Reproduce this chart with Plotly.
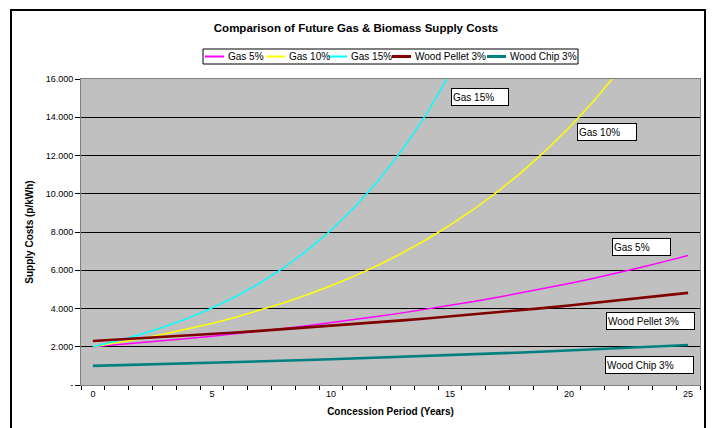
import plotly.graph_objects as go

# Concession years and supply cost projections (p/kWh)
years = list(range(26))

gas_5 = [2.000, 2.100, 2.205, 2.315, 2.431, 2.553, 2.680, 2.814, 2.955, 3.103,
         3.258, 3.421, 3.592, 3.771, 3.960, 4.158, 4.366, 4.584, 4.813, 5.054,
         5.307, 5.572, 5.851, 6.143, 6.450, 6.773]
gas_10 = [2.000, 2.200, 2.420, 2.662, 2.928, 3.221, 3.543, 3.897, 4.287, 4.716,
          5.187, 5.706, 6.277, 6.905, 7.595, 8.354, 9.190, 10.109, 11.120, 12.232,
          13.455, 14.800, 16.281, 17.909, 19.700, 21.670]
gas_15 = [2.000, 2.300, 2.645, 3.042, 3.498, 4.023, 4.626, 5.320, 6.118, 7.036,
          8.091, 9.305, 10.700, 12.305, 14.151, 16.274, 18.715, 21.523, 24.751, 28.464,
          32.733, 37.643, 43.290, 49.783, 57.250, 65.838]
wood_pellet_3 = [2.300, 2.369, 2.440, 2.513, 2.589, 2.666, 2.746, 2.829, 2.914, 3.001,
                 3.091, 3.184, 3.279, 3.378, 3.479, 3.583, 3.691, 3.801, 3.916, 4.033,
                 4.154, 4.279, 4.407, 4.539, 4.675, 4.816]
wood_chip_3 = [1.000, 1.030, 1.061, 1.093, 1.126, 1.159, 1.194, 1.230, 1.267, 1.305,
               1.344, 1.384, 1.426, 1.469, 1.513, 1.558, 1.605, 1.653, 1.702, 1.754,
               1.806, 1.860, 1.916, 1.974, 2.033, 2.094]

y_tick_vals = [0, 2, 4, 6, 8, 10, 12, 14, 16]
y_tick_text = ["-", "2.000", "4.000", "6.000", "8.000", "10.000", "12.000", "14.000", "16.000"]
x_tick_vals = [0, 5, 10, 15, 20, 25]

FONT = "Liberation Sans, Arial, sans-serif"

W, H = 712, 428
ML, MR, MT, MB = 81, 12, 79, 43
PW, PH = W - ML - MR, H - MT - MB


def px_x(px):
    """Pixel column -> paper x."""
    return (px - ML) / PW


def px_y(py):
    """Pixel row -> paper y."""
    return (H - MB - py) / PH


series = [
    ("Gas 5%", gas_5, "#FF00FF", 1.5),
    ("Gas 10%", gas_10, "#FFFF00", 1.5),
    ("Gas 15%", gas_15, "#00FFFF", 1.5),
    ("Wood Pellet 3%", wood_pellet_3, "#800000", 2.6),
    ("Wood Chip 3%", wood_chip_3, "#008080", 2.6),
]

fig = go.Figure()
for name, vals, color, w in series:
    fig.add_trace(go.Scatter(x=years, y=vals, name=name, mode="lines",
                             line=dict(color=color, width=w), showlegend=False))

# Series labels in boxes (left edge x, vertical centre y, box width px)
labels = [
    ("Gas 15%", 15.04, 15.06, 58),
    ("Gas 10%", 20.33, 13.23, 60),
    ("Gas 5%", 21.80, 7.22, 59),
    ("Wood Pellet 3%", 21.55, 3.35, 89),
    ("Wood Chip 3%", 21.51, 1.07, 89),
]
for text, lx, cy, w in labels:
    fig.add_annotation(x=lx, y=cy, xref="x", yref="y", text=text, showarrow=False,
                       xanchor="left", yanchor="middle", align="left",
                       width=w - 4, height=14, bgcolor="white",
                       bordercolor="black", borderwidth=1, borderpad=1,
                       font=dict(family=FONT, size=10, color="black"))

# Outer chart frame
fig.add_shape(type="rect", xref="paper", yref="paper",
              x0=px_x(11), x1=px_x(705), y0=px_y(460), y1=px_y(10),
              line=dict(color="black", width=2), fillcolor="rgba(0,0,0,0)",
              layer="below")

# Legend: framed row of line samples with series names
fig.add_shape(type="rect", xref="paper", yref="paper",
              x0=px_x(203), x1=px_x(578), y0=px_y(64), y1=px_y(49),
              line=dict(color="black", width=1), fillcolor="white", layer="above")
legend_x = [205, 266, 328, 392, 487]
legend_cy = 56.5
for (name, _, color, w), lx in zip(series, legend_x):
    fig.add_shape(type="line", xref="paper", yref="paper",
                  x0=px_x(lx), x1=px_x(lx + 19), y0=px_y(legend_cy), y1=px_y(legend_cy),
                  line=dict(color=color, width=2 if w < 2 else 3), layer="above")
    fig.add_annotation(x=px_x(lx + 21), y=px_y(legend_cy), xref="paper", yref="paper",
                       text=name, showarrow=False, xanchor="left", yanchor="middle",
                       font=dict(family=FONT, size=10, color="black"))

fig.update_layout(
    width=W, height=H,
    margin=dict(l=ML, r=MR, t=MT, b=MB),
    paper_bgcolor="white",
    plot_bgcolor="#C0C0C0",
    font=dict(family=FONT, size=9, color="black"),
    title=dict(text="<b>Comparison of Future Gas & Biomass Supply Costs</b>",
               x=0.5, xref="container", xanchor="center",
               y=1 - 28 / H, yref="container", yanchor="middle",
               font=dict(family=FONT, size=11.5, color="black")),
    showlegend=False,
    xaxis=dict(range=[-0.5, 25.5], tickvals=x_tick_vals, ticks="",
               showgrid=False, zeroline=False,
               showline=True, linecolor="#808080", linewidth=1, mirror=True,
               tickfont=dict(size=9, color="black"),
               minor=dict(tick0=-0.5, dtick=1, ticks="outside", ticklen=4,
                          tickcolor="black", showgrid=False),
               title=dict(text="<b>Concession Period (Years)</b>",
                          font=dict(size=10, color="black"), standoff=10)),
    yaxis=dict(range=[0, 16], tickvals=y_tick_vals, ticktext=y_tick_text,
               ticks="outside", ticklen=5, tickcolor="black",
               showgrid=True, gridcolor="black", gridwidth=1, zeroline=False,
               showline=True, linecolor="#808080", linewidth=1, mirror=True,
               tickfont=dict(size=9, color="black"),
               title=dict(text="<b>Supply Costs (p/kWh)</b>",
                          font=dict(size=10, color="black"), standoff=10)),
)

fig.write_html("out.html")
